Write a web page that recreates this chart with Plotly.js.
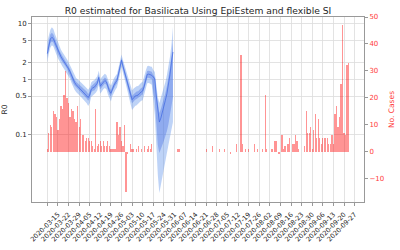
<!DOCTYPE html>
<html><head><meta charset="utf-8">
<script src="https://cdn.plot.ly/plotly-3.0.1.min.js"></script>
<style>html,body{margin:0;padding:0;background:#fff}#chart{width:400px;height:250px}</style>
</head><body><div id="chart"></div>
<script>
// R0 series starts 2020-03-08, one value per day
const rStart = '2020-03-08';
const rMed = [2.9,4.2,5.3,5.7,5.4,4.6,3.9,3.3,2.85,2.55,2.3,2.1,1.95,1.75,1.55,1.37,1.15,0.98,0.88,0.8,0.75,0.7,0.67,0.62,0.58,0.55,0.52,0.47,0.52,0.66,0.7,0.72,0.78,0.85,1.08,0.75,0.82,0.9,0.95,0.9,0.74,0.62,0.56,0.68,0.78,0.87,0.95,1.25,1.6,2.2,1.7,1.35,1.05,0.9,0.68,0.52,0.43,0.46,0.5,0.51,0.52,0.56,0.6,0.62,0.75,1.0,1.22,1.24,1.2,1.18,1.1,1.02,0.5,0.26,0.17,0.2,0.25,0.31,0.42,0.55,0.78,1.2,2.0,3.1];
const rHi95 = [4.8,6.4,7.8,8.6,8.0,6.6,5.5,4.6,3.9,3.4,3.05,2.8,2.55,2.3,2.05,1.8,1.52,1.3,1.17,1.06,1.0,0.93,0.9,0.84,0.79,0.75,0.71,0.65,0.71,0.88,0.93,0.96,1.04,1.13,1.42,1.0,1.1,1.2,1.26,1.2,1.0,0.85,0.77,0.92,1.04,1.15,1.25,1.62,2.05,2.8,2.2,1.77,1.4,1.22,0.95,0.75,0.63,0.68,0.73,0.75,0.76,0.82,0.87,0.9,1.08,1.42,1.72,1.75,1.7,1.68,1.47,1.35,0.79,0.48,0.375,0.46,0.567,0.697,0.894,1.195,1.66,2.52,4.14,8.7];
const rLo95 = [2.0,2.9,3.7,4.1,3.9,3.3,2.8,2.4,2.1,1.9,1.7,1.55,1.45,1.3,1.15,1.02,0.86,0.73,0.65,0.59,0.55,0.52,0.49,0.45,0.42,0.4,0.37,0.33,0.37,0.48,0.51,0.53,0.57,0.63,0.8,0.55,0.6,0.66,0.7,0.66,0.54,0.45,0.4,0.5,0.58,0.65,0.71,0.95,1.22,1.7,1.3,1.02,0.78,0.66,0.48,0.36,0.28,0.3,0.33,0.34,0.35,0.38,0.41,0.42,0.51,0.69,0.85,0.86,0.83,0.8,0.42,0.23,0.066,0.019,0.009,0.0126,0.0175,0.0244,0.034,0.047,0.066,0.092,0.128,0.17];
const rHi50 = [3.6,5.0,6.4,6.9,6.4,5.4,4.5,3.8,3.25,2.9,2.6,2.35,2.2,1.97,1.75,1.55,1.3,1.1,0.99,0.9,0.85,0.79,0.76,0.7,0.66,0.63,0.6,0.54,0.6,0.75,0.79,0.82,0.89,0.96,1.22,0.85,0.93,1.02,1.08,1.02,0.84,0.71,0.64,0.78,0.88,0.98,1.07,1.4,1.78,2.45,1.9,1.52,1.18,1.02,0.78,0.6,0.5,0.54,0.58,0.6,0.61,0.66,0.7,0.72,0.87,1.16,1.41,1.43,1.39,1.37,1.19,1.1,0.567,0.33,0.248,0.293,0.36,0.44,0.567,0.758,1.05,1.6,2.62,4.68];
const rLo50 = [2.4,3.5,4.5,4.8,4.6,3.9,3.35,2.85,2.5,2.25,2.05,1.85,1.72,1.55,1.37,1.2,1.01,0.86,0.77,0.7,0.66,0.62,0.59,0.54,0.51,0.48,0.45,0.41,0.45,0.58,0.62,0.63,0.68,0.75,0.95,0.66,0.72,0.79,0.84,0.79,0.65,0.54,0.49,0.6,0.69,0.77,0.84,1.11,1.43,1.97,1.52,1.2,0.93,0.79,0.59,0.45,0.37,0.39,0.43,0.44,0.45,0.48,0.51,0.53,0.64,0.86,1.05,1.07,1.03,1.01,0.59,0.42,0.15,0.066,0.047,0.056,0.066,0.078,0.092,0.117,0.156,0.22,0.32,0.48];
// Daily new cases starting 2020-03-08
const caseStart = '2020-03-08';
const cases = [1,7,10,9,15,14,13,8,12,17,
16,21,30,20,18,13,16,15,12,11,
17,9,12,6,6,4,5,5,4,4,
2,1,16,2,3,4,2,4,2,2,
4,2,1,1,1,1,11,6,9,4,
2,10,-15,-1,0,3,1,1,0,1,
2,0,1,0,2,0,1,2,1,3,
0,0,0,0,0,0,0,0,0,0,
0,0,0,0,0,0,1,1,0,0,
0,0,0,0,0,0,0,0,0,0,
0,0,0,0,0,1,0,0,0,2,
0,0,0,0,1,0,0,1,0,0,
0,-1,0,0,0,3,0,0,36,3,
0,1,0,1,0,0,0,3,0,1,
0,0,1,0,21,1,0,0,1,1,
4,4,0,-1,0,6,1,2,0,3,
5,0,3,3,6,4,1,0,0,0,
2,15,7,7,9,1,8,14,5,12,
5,3,5,5,5,5,3,3,6,3,
14,17,9,13,25,47,7,6,32,33];
// weekly x ticks (gridline at 2020-03-08 carries no label)
const xTickDates = ['2020-03-08','2020-03-15','2020-03-22','2020-03-29','2020-04-05','2020-04-12','2020-04-19','2020-04-26','2020-05-03','2020-05-10','2020-05-17','2020-05-24','2020-05-31','2020-06-07','2020-06-14','2020-06-21','2020-06-28','2020-07-05','2020-07-12','2020-07-19','2020-07-26','2020-08-02','2020-08-09','2020-08-16','2020-08-23','2020-08-30','2020-09-06','2020-09-13','2020-09-20','2020-09-27'];
const xTickText = [''].concat(xTickDates.slice(1));
const yTicks = [0.1,0.5,1,2,5,10];
const yTickText = ['0.1','0.5','1','2','5','10'];
const y2Ticks = [-10,0,10,20,30,40,50];

function dates(start, n){
  const p = start.split('-').map(Number);
  const out = [];
  for(let i=0;i<n;i++){ out.push(new Date(Date.UTC(p[0],p[1]-1,p[2]+i)).toISOString().slice(0,10)); }
  return out;
}
const rDates = dates(rStart, rMed.length);
const cDates = dates(caseStart, cases.length);
const revD = rDates.slice().reverse();

const traces = [
  {x: rDates.concat(revD), y: rHi95.concat(rLo95.slice().reverse()), fill:'toself', mode:'lines', line:{width:0}, fillcolor:'rgba(100,149,237,0.42)', hoverinfo:'skip', showlegend:false},
  {x: rDates.concat(revD), y: rHi50.concat(rLo50.slice().reverse()), fill:'toself', mode:'lines', line:{width:0}, fillcolor:'rgba(65,105,225,0.38)', hoverinfo:'skip', showlegend:false},
  {x: rDates, y: rMed, mode:'lines', line:{color:'rgba(65,105,225,0.75)', width:1}, showlegend:false},
  {x: cDates, y: cases, type:'bar', yaxis:'y2', width: 0.8*86400000, marker:{color:'rgba(255,0,0,0.42)', line:{width:0}}, showlegend:false}
];

const layout = {
  width:400, height:250,
  margin:{l:32, r:36, t:17, b:48},
  paper_bgcolor:'#fff', plot_bgcolor:'#fff',
  font:{family:'DejaVu Sans', color:'#262626'},
  title:{text:'R0 estimated for Basilicata Using EpiEstem and flexible SI', font:{size:9.2, color:'#262626'}, x:0.5, xref:'paper', y:0.955, yref:'container', yanchor:'middle'},
  xaxis:{type:'date', range:['2020-02-26 21:00','2020-10-03 05:00'], tickmode:'array', tickvals:xTickDates, ticktext:xTickText, tickangle:-45, tickfont:{size:6.6, color:'#262626'}, ticklabelstandoff:2, ticks:'outside', ticklen:3, tickcolor:'#999', showgrid:true, gridcolor:'#dcdcdc', gridwidth:0.8, showline:true, linecolor:'#999', linewidth:1, mirror:true, zeroline:false},
  yaxis:{type:'log', range:[-2.2076, 1.1206], tickvals:yTicks, ticktext:yTickText, tickfont:{size:7, color:'#262626'}, ticks:'outside', ticklen:3, tickcolor:'#999', showgrid:true, gridcolor:'#dcdcdc', gridwidth:0.8, showline:true, linecolor:'#999', linewidth:1, zeroline:false, title:{text:'R0', font:{size:7.5, color:'#262626'}, standoff:6}},
  yaxis2:{overlaying:'y', side:'right', range:[-18.7, 50], tickvals:y2Ticks, tickfont:{size:7, color:'#ff3b3b'}, ticks:'outside', ticklen:3, tickcolor:'#999', showgrid:false, zeroline:false, showline:true, linecolor:'#999', linewidth:1, title:{text:'No. Cases', font:{size:7.5, color:'#ff3b3b'}, standoff:5}},
  bargap:0, barmode:'overlay'
};
Plotly.newPlot('chart', traces, layout, {staticPlot:true, displayModeBar:false});
</script></body></html>
